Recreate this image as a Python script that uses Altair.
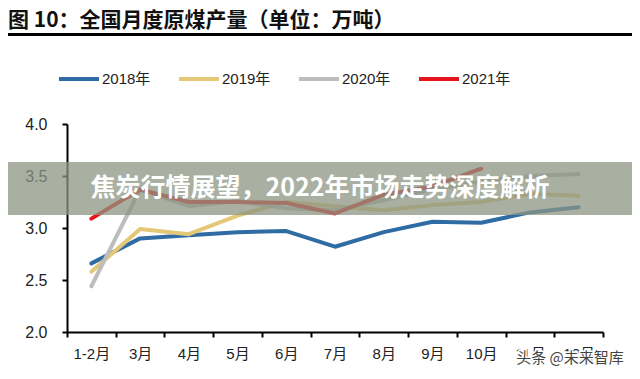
import altair as alt
import pandas as pd

months = ["1-2月", "3月", "4月", "5月", "6月", "7月", "8月", "9月", "10月", "11月", "12月"]
years = ["2018年", "2019年", "2020年", "2021年"]
colors = ["#2f6ca4", "#e4c878", "#bdbdbd", "#e8141c"]

y2018 = [2.66, 2.90, 2.93, 2.96, 2.97, 2.82, 2.96, 3.06, 3.05, 3.15, 3.20]
y2019 = [2.58, 2.99, 2.94, 3.12, 3.25, 3.21, 3.17, 3.22, 3.25, 3.33, 3.31]
y2020 = [2.44, 3.37, 3.21, 3.26, 3.19, 3.17, 3.27, 3.37, 3.45, 3.50, 3.52]
y2021 = [3.09, 3.37, 3.25, 3.25, 3.24, 3.14, 3.32, 3.40, 3.57]

rows = []
for yr, vals in zip(years, [y2018, y2019, y2020, y2021]):
    for m, v in zip(months, vals):
        rows.append({"month": m, "year": yr, "value": v})
df = pd.DataFrame(rows)

FONT = "Liberation Sans, Noto Sans CJK SC"
CJK = "Noto Sans CJK SC"

lines = alt.Chart(df).mark_line(strokeWidth=4, strokeCap="round", strokeJoin="round").encode(
    x=alt.X("month:N", sort=months, bandPosition=0.5,
            scale=alt.Scale(type="band", paddingInner=0, paddingOuter=0),
            axis=alt.Axis(title=None, labelAngle=0, tickBand="extent", grid=False,
                          domainColor="black", domainWidth=2, tickColor="black",
                          tickWidth=2, tickSize=5, labelFont=FONT, labelFontSize=15,
                          labelColor="#222", labelPadding=9)),
    y=alt.Y("value:Q", scale=alt.Scale(domain=[2.0, 4.0], nice=False, zero=False),
            axis=alt.Axis(title=None, values=[2.0, 2.5, 3.0, 3.5, 4.0], format=".1f",
                          grid=False, domainColor="black", domainWidth=2,
                          tickColor="black", tickWidth=2, tickSize=5,
                          labelFont=FONT, labelFontSize=16, labelColor="#222",
                          labelPadding=15)),
    color=alt.Color("year:N", scale=alt.Scale(domain=years, range=colors),
                    legend=alt.Legend(title=None, orient="none", legendX=-10, legendY=-67,
                                      direction="horizontal", symbolType="stroke",
                                      symbolSize=1600, symbolStrokeWidth=4,
                                      labelFont=FONT, labelFontSize=15, labelColor="#222",
                                      labelOffset=1, columnPadding=20)),
)

one = pd.DataFrame({"a": [0]})

title = alt.Chart(one).mark_text(text="图 10：全国月度原煤产量（单位：万吨）", font=CJK,
                                 fontSize=21, fontWeight="bold", align="left",
                                 baseline="alphabetic", color="#111").encode(
    x=alt.value(-59), y=alt.value(-97))

underline = alt.Chart(one).mark_rule(color="black", strokeWidth=3).encode(
    x=alt.value(-59), x2=alt.value(565), y=alt.value(-89.5))

banner = alt.Chart(one).mark_rect(color="#8c9683", opacity=0.75).encode(
    x=alt.value(-59), x2=alt.value(565), y=alt.value(38), y2=alt.value(91))

banner_text = alt.Chart(one).mark_text(text="焦炭行情展望，2022年市场走势深度解析", font=CJK,
                                       fontSize=25, fontWeight="bold", align="center",
                                       baseline="middle", color="white").encode(
    x=alt.value(253), y=alt.value(64))

wm_bg = alt.Chart(one).mark_text(text="头条 @未来智库", font=CJK, fontSize=15,
                                 align="center", baseline="middle", color="white",
                                 stroke="white", strokeWidth=3).encode(
    x=alt.value(503), y=alt.value(234))
wm = alt.Chart(one).mark_text(text="头条 @未来智库", font=CJK, fontSize=15,
                              align="center", baseline="middle", color="#444").encode(
    x=alt.value(503), y=alt.value(234))

chart = alt.layer(lines, title, underline, banner, banner_text, wm_bg, wm).properties(
    width=536, height=208,
    autosize=alt.AutoSizeParams(type="none"),
    padding={"left": 59, "top": 116, "right": 29, "bottom": 39},
).configure_view(stroke=None)

chart.save("out.html", embed_options={"renderer": "svg", "actions": False})
